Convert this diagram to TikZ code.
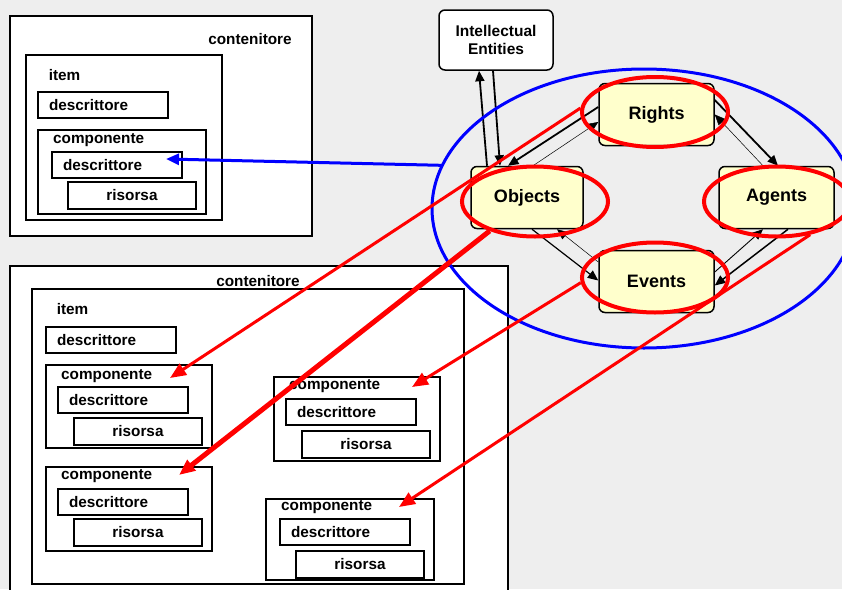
\documentclass[tikz,border=0pt]{standalone}
\usepackage{fontspec}
\setmainfont{Liberation Sans}
\usetikzlibrary{shapes.geometric,arrows.meta}
\definecolor{bgcol}{RGB}{238,238,238}
\definecolor{pale}{RGB}{255,255,204}
\tikzstyle{txt}     = [inner sep=0pt, font=\fontsize{15.3}{18}\selectfont\bfseries]
\tikzstyle{frame}   = [draw, line width=2pt, fill=white, anchor=north west, inner sep=0pt]
\tikzstyle{descbox} = [frame, txt, minimum width=130pt, minimum height=26pt, text width=108pt, inner xsep=11pt, align=left]
\tikzstyle{risbox}  = [frame, txt, minimum width=128pt, minimum height=27pt]
\tikzstyle{entity}  = [draw, line width=1.5pt, fill=pale, rounded corners=6pt, minimum width=115pt, minimum height=62pt, font=\fontsize{18}{21}\selectfont\bfseries]
\tikzstyle{ring}    = [draw=red, line width=4pt, ellipse, inner sep=0pt, minimum width=146pt, minimum height=70pt]
\tikzstyle{link}    = [-{Triangle[length=10.5pt,width=9pt]}, line width=1.2pt]
\tikzstyle{redarrow}= [red, line width=3pt, -{Triangle[length=16pt,width=13pt]}]

\begin{document}
\begin{tikzpicture}[x=1pt, y=-1pt]
\useasboundingbox (0,0) rectangle (842,589);
\fill[bgcol] (0,0) rectangle (842,589);

\node[frame, minimum width=302pt, minimum height=220pt] (k1) at (9,15) {};
\node[txt] (k1t) at (250,39) {contenitore};
\node[frame, minimum width=196pt, minimum height=165pt] (i1) at (25,54) {};
\node[txt] (i1t) at (64.5,75) {item};
\node[descbox] (i1d) at (37,91) {descrittore};
\node[frame, minimum width=168pt, minimum height=84pt] (c0) at (37,129) {};
\node[txt, anchor=west] (c0t) at ([shift={(16,11)}]c0.north west) {componente};
\node[descbox] (c0d) at ([shift={(14,22)}]c0.north west) {descrittore};
\node[risbox] (c0r) at ([shift={(30,52)}]c0.north west) {risorsa};

\node[frame, minimum width=498pt, minimum height=330pt] (k2) at (9,265) {};
\node[frame, minimum width=432pt, minimum height=295pt] (i2) at (31,288) {};
\node[txt] (k2t) at (258,281) {contenitore};
\node[txt] (i2t) at (72.5,309) {item};
\node[descbox] (i2d) at (45,326) {descrittore};
\node[frame, minimum width=166pt, minimum height=83pt] (c1) at (45,364) {};
\node[txt, anchor=west] (c1t) at ([shift={(16,12)}]c1.north west) {componente};
\node[descbox] (c1d) at ([shift={(12,22)}]c1.north west) {descrittore};
\node[risbox] (c1r) at ([shift={(28,53)}]c1.north west) {risorsa};
\node[frame, minimum width=166pt, minimum height=84pt] (c2) at (45,466) {};
\node[txt, anchor=west] (c2t) at ([shift={(16,10)}]c2.north west) {componente};
\node[descbox] (c2d) at ([shift={(12,22)}]c2.north west) {descrittore};
\node[risbox] (c2r) at ([shift={(28,52)}]c2.north west) {risorsa};
\node[frame, minimum width=166pt, minimum height=84pt] (c3) at (273,376) {};
\node[txt, anchor=west] (c3t) at ([shift={(16,10)}]c3.north west) {componente};
\node[descbox] (c3d) at ([shift={(12,22)}]c3.north west) {descrittore};
\node[risbox] (c3r) at ([shift={(28,54)}]c3.north west) {risorsa};
\node[frame, minimum width=168pt, minimum height=81pt] (c4) at (265,498) {};
\node[txt, anchor=west] (c4t) at ([shift={(16,9)}]c4.north west) {componente};
\node[descbox] (c4d) at ([shift={(14,20)}]c4.north west) {descrittore};
\node[risbox] (c4r) at ([shift={(30,52)}]c4.north west) {risorsa};

\node[entity, fill=white, minimum width=114pt, minimum height=60pt, align=center,
  font=\fontsize{15.5}{18}\selectfont\bfseries] (ie) at (496,40) {Intellectual\\Entities};
\node[entity] (rig) at (656.5,114.5) {Rights};
\node[entity, minimum width=112pt] (obj) at (527,197.5) {Objects};
\node[entity] (agt) at (776.5,197.5) {Agents};
\node[entity] (evt) at (656.5,281.5) {Events};

\draw[link, line width=1.8pt] ([xshift=-40pt]obj.north) -- ([xshift=-17pt]ie.south);
\draw[link, line width=1.8pt] ([xshift=-3pt]ie.south) -- ([xshift=-27pt]obj.north);
\draw[link, line width=1.8pt] ([yshift=7.5pt]rig.west) -- ([xshift=-19pt]obj.north);
\draw[link, line width=0.5pt] ([xshift=6pt]obj.north) -- ([yshift=-7.5pt]rig.west);
\draw[link, line width=1.8pt] ([yshift=14.5pt]rig.east) -- ([xshift=1.5pt]agt.north);
\draw[link, line width=0.5pt] ([xshift=-13.5pt]agt.north) -- (rig.east);
\draw[link] ([xshift=5pt]obj.south) -- ([yshift=1pt]evt.west);
\draw[link, line width=0.5pt] ([yshift=19.5pt]evt.west) -- ([xshift=30pt]obj.south);
\draw[link, line width=0.9pt] ([yshift=9.5pt]evt.east) -- ([xshift=-13.5pt]agt.south);
\draw[link, line width=1.5pt] ([xshift=11.5pt]agt.south) -- ([yshift=-4pt]evt.east);

\node[draw=blue, line width=3pt, ellipse, inner sep=0pt, minimum width=424pt, minimum height=279pt] (grp) at (644,208.5) {};
\node[ring] (rR) at (655,112) {};
\node[ring] (rO) at (535,201.5) {};
\node[ring] (rA) at (777,201.5) {};
\node[ring] (rE) at (655,277.5) {};

\draw[blue, line width=3pt, -{Triangle[length=13pt,width=11pt]}] (grp.168) -- ([xshift=-17pt,yshift=6pt]c0d.east);
\draw[redarrow] (rR.177) -- ([xshift=-43pt,yshift=-14pt]c1.north east);
\draw[redarrow, line width=5pt] (rO.213.5) -- ([xshift=-34pt,yshift=-9pt]c2.north east);
\draw[redarrow] (rE.184) -- ([xshift=-29pt,yshift=-11pt]c3.north east);
\draw[redarrow] (rA.-45) -- ([xshift=-36pt,yshift=-9pt]c4.north east);
\end{tikzpicture}
\end{document}
